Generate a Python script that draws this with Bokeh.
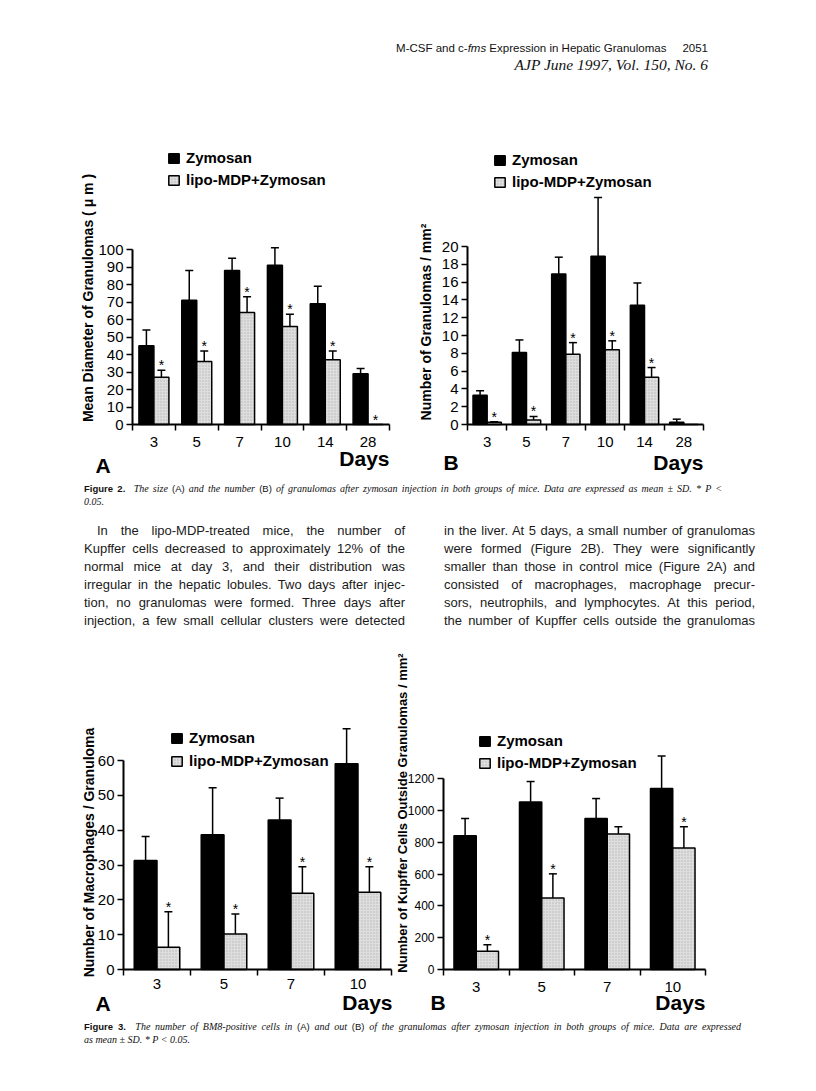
import math
from bokeh.plotting import figure
from bokeh.models import (ColumnDataSource, FixedTicker, Whisker, TeeHead, Label,
                          Legend, LegendItem, Range1d, Div)
from bokeh.layouts import column, row
from bokeh.embed import file_html
from bokeh.resources import INLINE
from bokeh.core.properties import value

SANS = "Liberation Sans"

# ---------------- data ----------------
# Figure 2A: mean diameter of granulomas (um)
days2 = ["3", "5", "7", "10", "14", "28"]
diam_zym = [45, 71, 88, 91, 69, 29]
diam_zym_sd = [9, 17, 7, 10, 10, 3]
diam_lipo = [27, 36, 64, 56, 37, 0]
diam_lipo_sd = [4, 6, 9, 7, 5, 0]
diam_sig = [True, True, True, True, True, True]

# Figure 2B: number of granulomas / mm2
num_zym = [3.3, 8.1, 16.9, 18.9, 13.4, 0.25]
num_zym_sd = [0.5, 1.4, 1.9, 6.6, 2.5, 0.35]
num_lipo = [0.25, 0.5, 7.9, 8.4, 5.3, 0]
num_lipo_sd = [0.05, 0.4, 1.3, 1.0, 1.1, 0]
num_sig = [True, True, True, True, True, False]

# Figure 3A: macrophages / granuloma
days3 = ["3", "5", "7", "10"]
mac_zym = [31.3, 38.7, 42.9, 59.1]
mac_zym_sd = [6.9, 13.5, 6.3, 10.0]
mac_lipo = [6.4, 10.2, 21.9, 22.2]
mac_lipo_sd = [10.2, 5.7, 7.6, 7.3]
mac_sig = [True, True, True, True]

# Figure 3B: Kupffer cells outside granulomas / mm2
kup_zym = [840, 1053, 949, 1137]
kup_zym_sd = [109, 128, 125, 205]
kup_lipo = [115, 450, 852, 763]
kup_lipo_sd = [40, 151, 45, 134]
kup_sig = [True, True, False, True]

ticks_2a = [0, 10, 20, 30, 40, 50, 60, 70, 80, 90, 100]
ticks_2b = [0, 2, 4, 6, 8, 10, 12, 14, 16, 18, 20]
ticks_3a = [0, 10, 20, 30, 40, 50, 60]
ticks_3b = [0, 200, 400, 600, 800, 1000, 1200]


def bar_chart(cats, zym, zym_sd, lipo, lipo_sd, sig, yticks, *, geom, bar_w, tick_size,
              x_standoff, ylabel, ylabel_px, ylabel_size, panel, panel_px, days_px,
              legend_px, legend_spacing):
    # geom: canvas left/top/width/height, pixel of the axes origin, px per category, px per unit
    L, T, W, H = geom["canvas"]
    x0, y0, cw, yu = geom["x0"], geom["y0"], geom["cw"], geom["yu"]
    n = len(cats)

    def dx(px):
        return (px - x0) / cw

    def dy(py):
        return (y0 - py) / yu

    p = figure(width=W, height=H, x_range=Range1d(dx(L), dx(L + W)),
               y_range=Range1d(dy(T + H), dy(T)), title=None,
               output_backend="svg", toolbar_location=None,
               min_border_left=0, min_border_right=0, min_border_top=0, min_border_bottom=0,
               outline_line_color=None, border_fill_color="white",
               background_fill_color="white", margin=0)
    p.xgrid.visible = False
    p.ygrid.visible = False

    centers = [i + 0.5 for i in range(n)]
    xz = [c - bar_w / 2 for c in centers]
    xl = [c + bar_w / 2 for c in centers]
    src = ColumnDataSource(dict(xz=xz, xl=xl, zym=zym, lipo=lipo))
    rz = p.vbar(x="xz", top="zym", width=bar_w, source=src, fill_color="black",
                line_color="black", line_width=1.5)
    rl = p.vbar(x="xl", top="lipo", width=bar_w, source=src, fill_color="#dedede",
                line_color="black", line_width=1.5, hatch_pattern="dot",
                hatch_color="#888888", hatch_scale=3, hatch_weight=0.5, hatch_alpha=0.5)

    wx, wlo, whi = [], [], []
    for xs, vals, sds in ((xz, zym, zym_sd), (xl, lipo, lipo_sd)):
        for x, v, s in zip(xs, vals, sds):
            if s > 0:
                wx.append(x)
                wlo.append(v)
                whi.append(v + s)
    wsrc = ColumnDataSource(dict(x=wx, lower=wlo, upper=whi))
    p.add_layout(Whisker(source=wsrc, base="x", lower="lower", upper="upper",
                         dimension="height", line_color="black", line_width=1.5,
                         upper_head=TeeHead(size=8, line_color="black", line_width=1.5),
                         lower_head=None))

    sx, sy = [], []
    for x, v, s, g in zip(xl, lipo, lipo_sd, sig):
        if g:
            sx.append(x)
            sy.append(v + s)
    p.text(x=sx, y=sy, text=["*"] * len(sx), text_align="center",
           text_baseline="alphabetic", y_offset=-5, text_font=value(SANS),
           text_font_size="14px", text_color="black")

    # x axis: labels centred in each category, tick marks at the category boundaries
    xa = p.xaxis[0]
    xa.fixed_location = 0
    xa.bounds = (0, n)
    xa.ticker = FixedTicker(ticks=centers, minor_ticks=list(range(n + 1)))
    xa.major_label_overrides = {c: lab for c, lab in zip(centers, cats)}
    xa.major_tick_out = 0
    xa.major_tick_in = 0
    xa.minor_tick_out = 6
    xa.minor_tick_in = 0
    xa.minor_tick_line_color = "black"
    xa.minor_tick_line_width = 1.5
    xa.axis_line_width = 2
    xa.axis_line_color = "black"
    xa.major_label_standoff = x_standoff
    xa.major_label_text_font = SANS
    xa.major_label_text_font_size = "15px"
    xa.major_label_text_color = "black"

    ya = p.yaxis[0]
    ya.fixed_location = 0
    ya.ticker = FixedTicker(ticks=yticks)
    ya.bounds = (0, yticks[-1])
    ya.major_tick_out = 6
    ya.major_tick_in = 0
    ya.minor_tick_out = 0
    ya.minor_tick_in = 0
    ya.major_tick_line_width = 1.5
    ya.major_tick_line_color = "black"
    ya.axis_line_width = 2
    ya.axis_line_color = "black"
    ya.major_label_standoff = 3
    ya.major_label_text_font = SANS
    ya.major_label_text_font_size = tick_size
    ya.major_label_text_color = "black"

    p.add_layout(Label(x=dx(ylabel_px[0]), y=dy(ylabel_px[1]), text=ylabel, angle=math.pi / 2,
                       text_align="center", text_baseline="middle", text_font=SANS,
                       text_font_style="bold", text_font_size=ylabel_size, text_color="black"))
    p.add_layout(Label(x=dx(panel_px[0]), y=dy(panel_px[1]), text=panel, text_align="left",
                       text_baseline="middle", text_font=SANS, text_font_style="bold",
                       text_font_size="21px", text_color="black"))
    p.add_layout(Label(x=dx(days_px[0]), y=dy(days_px[1]), text="Days", text_align="right",
                       text_baseline="middle", text_font=SANS, text_font_style="bold",
                       text_font_size="21px", text_color="black"))

    leg = Legend(items=[LegendItem(label="Zymosan", renderers=[rz]),
                        LegendItem(label="lipo-MDP+Zymosan", renderers=[rl])],
                 location=(legend_px[0] - L, T + H - legend_px[1]),
                 glyph_width=13, glyph_height=12,
                 label_height=12, label_width=10, label_standoff=6, spacing=legend_spacing,
                 padding=0, margin=0, border_line_color=None, background_fill_alpha=0,
                 label_text_font=SANS, label_text_font_style="bold",
                 label_text_font_size="15px", label_text_color="black")
    p.add_layout(leg)
    return p


fig2a = bar_chart(days2, diam_zym, diam_zym_sd, diam_lipo, diam_lipo_sd, diam_sig, ticks_2a,
                  geom=dict(canvas=(0, 130, 410, 352), x0=132, y0=424, cw=257 / 6, yu=1.75),
                  bar_w=0.35, tick_size="15px", x_standoff=6,
                  ylabel="Mean Diameter of Granulomas ( \u03bc m )", ylabel_px=(87, 297.5),
                  ylabel_size="14px", panel="A", panel_px=(95, 465), days_px=(389, 458),
                  legend_px=(167, 188), legend_spacing=5)

fig2b = bar_chart(days2, num_zym, num_zym_sd, num_lipo, num_lipo_sd, num_sig, ticks_2b,
                  geom=dict(canvas=(410, 130, 400, 352), x0=467, y0=424, cw=236 / 6, yu=8.9),
                  bar_w=0.36, tick_size="15px", x_standoff=6,
                  ylabel="Number of Granulomas / mm\u00b2", ylabel_px=(425, 321.5),
                  ylabel_size="14px", panel="B", panel_px=(443, 461.5), days_px=(703, 461.5),
                  legend_px=(493, 190), legend_spacing=5)

fig3a = bar_chart(days3, mac_zym, mac_zym_sd, mac_lipo, mac_lipo_sd, mac_sig, ticks_3a,
                  geom=dict(canvas=(0, 640, 395, 380), x0=123, y0=969, cw=67.0, yu=209 / 60),
                  bar_w=0.34, tick_size="15px", x_standoff=3,
                  ylabel="Number of Macrophages / Granuloma", ylabel_px=(88, 852),
                  ylabel_size="14px", panel="A", panel_px=(95, 1003), days_px=(392, 1002),
                  legend_px=(170, 769), legend_spacing=6)

fig3b = bar_chart(days3, kup_zym, kup_zym_sd, kup_lipo, kup_lipo_sd, kup_sig, ticks_3b,
                  geom=dict(canvas=(395, 640, 415, 380), x0=443, y0=969, cw=65.5, yu=191 / 1200),
                  bar_w=0.34, tick_size="12px", x_standoff=6,
                  ylabel="Number of Kupffer Cells Outside Granulomas / mm\u00b2",
                  ylabel_px=(402, 812.5), ylabel_size="13px", panel="B",
                  panel_px=(430, 1002), days_px=(705, 1002),
                  legend_px=(478, 771), legend_spacing=5)

# ---------------- text blocks ----------------
SANS_CSS = "font-family:'Liberation Sans',Arial,sans-serif;"
SERIF_I = "font-family:'Liberation Serif','Times New Roman',serif;font-style:italic;"
JUST = "text-align:justify;text-align-last:justify;"

header_html = (
    '<div style="position:relative;width:816px;height:130px;color:#111;">'
    f'<div style="position:absolute;right:108px;top:40px;white-space:nowrap;{SANS_CSS}'
    'font-size:11.5px;line-height:16px;">'
    'M-CSF and c-<i>fms</i> Expression in Hepatic Granulomas'
    '<span style="display:inline-block;width:16px"></span>2051</div>'
    f'<div style="position:absolute;right:108px;top:57px;white-space:nowrap;{SERIF_I}'
    'font-size:15.5px;line-height:16px;">AJP June 1997, Vol. 150, No. 6</div></div>'
)
header = Div(text=header_html, width=816, height=130, margin=0)


def caption(num, parts, line2, height, width):
    spans = []
    for t, is_sans in parts:
        if is_sans:
            spans.append(f'<span style="{SANS_CSS}font-style:normal;font-size:9.5px;">{t}</span>')
        else:
            spans.append(t)
    first = ''.join(spans)
    return (
        f'<div style="position:relative;width:816px;height:{height}px;color:#111;">'
        f'<div style="position:absolute;left:84px;top:1px;width:{width}px;{SERIF_I}'
        'font-size:10px;line-height:12.5px;">'
        f'<div style="{JUST}"><span style="{SANS_CSS}font-style:normal;font-weight:bold;'
        f'font-size:9.5px;">Figure {num}.</span>&nbsp; {first}</div>'
        f'<div>{line2}</div></div></div>'
    )


cap2 = Div(text=caption(2, [("The size ", False), ("(A)", True), (" and the number ", False),
                            ("(B)", True),
                            (" of granulomas after zymosan injection in both groups of mice. "
                             "Data are expressed as mean \u00b1 SD. * P &lt;", False)],
                        "0.05.", 33, 638), width=816, height=33, margin=0)

cap3 = Div(text=caption(3, [("The number of BM8-positive cells in ", False), ("(A)", True),
                            (" and out ", False), ("(B)", True),
                            (" of the granulomas after zymosan injection in both groups of mice. "
                             "Data are expressed", False)],
                        "as mean \u00b1 SD. * P &lt; 0.05.", 55, 657), width=816, height=55, margin=0)

left_lines = [
    "In the lipo-MDP-treated mice, the number of",
    "Kupffer cells decreased to approximately 12% of the",
    "normal mice at day 3, and their distribution was",
    "irregular in the hepatic lobules. Two days after injec-",
    "tion, no granulomas were formed. Three days after",
    "injection, a few small cellular clusters were detected",
]
right_lines = [
    "in the liver. At 5 days, a small number of granulomas",
    "were formed (Figure 2B). They were significantly",
    "smaller than those in control mice (Figure 2A) and",
    "consisted of macrophages, macrophage precur-",
    "sors, neutrophils, and lymphocytes. At this period,",
    "the number of Kupffer cells outside the granulomas",
]


def col_html(lines, left, width, indent_first):
    out = [f'<div style="position:absolute;left:{left}px;top:7px;width:{width}px;">']
    for i, ln in enumerate(lines):
        pad = "padding-left:13px;" if (indent_first and i == 0) else ""
        out.append(f'<div style="height:18px;line-height:18px;{JUST}{pad}">{ln}</div>')
    out.append('</div>')
    return ''.join(out)


body_html = (
    f'<div style="position:relative;width:816px;height:125px;color:#1a1a1a;{SANS_CSS}'
    'font-size:13px;">'
    + col_html(left_lines, 84, 321, True)
    + col_html(right_lines, 444, 311, False)
    + '</div>'
)
body = Div(text=body_html, width=816, height=125, margin=0)

page = column(
    header,
    row(fig2a, fig2b, spacing=0),
    cap2,
    body,
    row(fig3a, fig3b, spacing=0),
    cap3,
    spacing=0,
)

with open("out.html", "w") as f:
    f.write(file_html(page, INLINE, title="Figures 2 and 3"))
